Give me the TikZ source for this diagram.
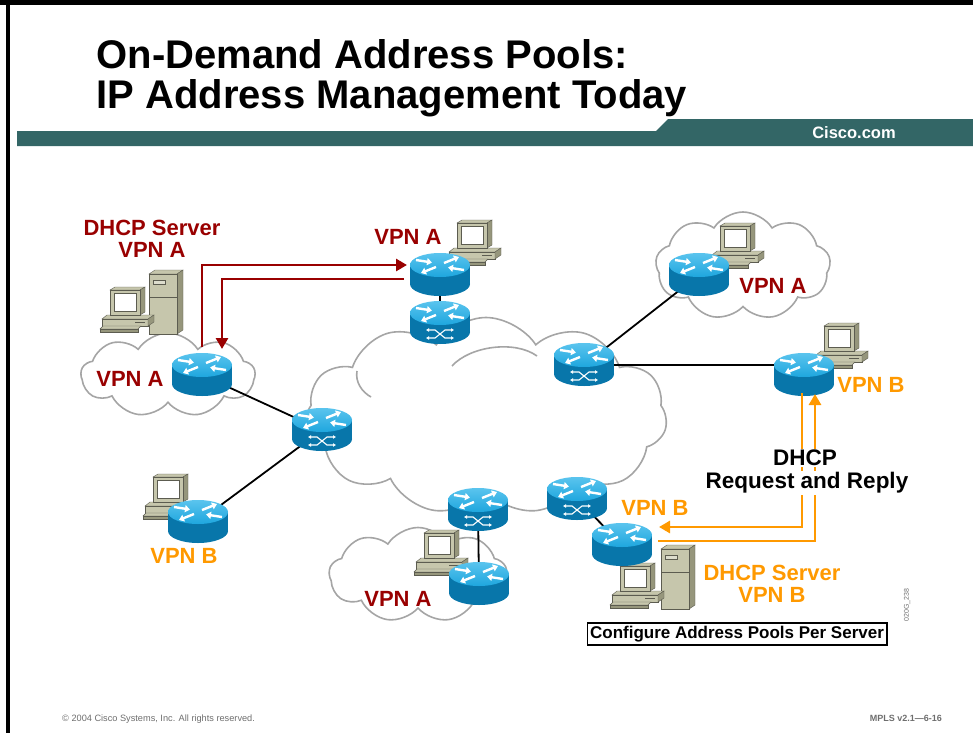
\documentclass[tikz,border=0pt]{standalone}
\usepackage{fontspec}
\setmainfont{Liberation Sans}
\usetikzlibrary{shapes.symbols,arrows.meta}

\definecolor{ciscoteal}{RGB}{51,102,102}
\definecolor{vpnred}{RGB}{153,0,0}
\definecolor{vpnorange}{RGB}{255,153,0}
\definecolor{rtrtop}{RGB}{30,166,222}
\definecolor{rtrhi}{RGB}{90,196,238}
\definecolor{rtrside}{RGB}{8,118,170}
\definecolor{pcface}{RGB}{198,198,172}
\definecolor{pcside}{RGB}{150,150,124}
\definecolor{pcline}{RGB}{92,92,80}
\definecolor{cloudgray}{RGB}{165,165,165}
\definecolor{footgray}{RGB}{110,110,110}

% router body, origin in the middle of the cylinder
\newcommand{\rtrbody}{%
  \fill[rtrside] (-30,-10) rectangle (30,9);
  \fill[rtrside] (0,9) ellipse[x radius=30, y radius=12];
  \shade[top color=rtrhi, bottom color=rtrtop] (0,-10) ellipse[x radius=30, y radius=12];
  \begin{scope}[white, line width=2.4pt, -{Triangle[length=5pt,width=7pt]}]
    \draw (-24,-15) -- (-8,-12.5);
    \draw (4,-12) -- (19,-18);
    \draw (-4,-8) -- (-19,-2);
    \draw (24,-5) -- (8,-7.5);
  \end{scope}
}
% crossed arrows on the side of a switch router
\newcommand{\swmark}{%
  \begin{scope}[white, line width=1.1pt, {Latex[length=3pt,width=4pt]}-{Latex[length=3pt,width=4pt]}]
    \draw (-14,7) -- (-5,7) -- (5,15) -- (14,15);
    \draw (-14,15) -- (-5,15) -- (5,7) -- (14,7);
  \end{scope}
}
% workstation, origin at top left of the monitor front
\newcommand{\pcbody}{%
  \filldraw[fill=pcface, draw=pcline] (-8,29) -- (-3,25) -- (44,25) -- (38,29) -- cycle;
  \filldraw[fill=pcface, draw=pcline] (-8,29) rectangle (38,36);
  \filldraw[fill=pcside, draw=pcline] (38,29) -- (44,25) -- (44,32) -- (38,36) -- cycle;
  \draw[pcline, line width=1pt] (25,32.5) -- (35,32.5);
  \filldraw[fill=pcface, draw=pcline] (-10,39) -- (-7,36) -- (31,36) -- (28,39) -- cycle;
  \filldraw[fill=pcside, draw=pcline] (-10,39) rectangle (28,42);
  \filldraw[fill=pcface, draw=pcline] (0,0) -- (5,-3) -- (35,-3) -- (30,0) -- cycle;
  \filldraw[fill=pcside, draw=pcline] (30,0) -- (35,-3) -- (35,22) -- (30,25) -- cycle;
  \filldraw[fill=pcface, draw=pcline] (0,0) rectangle (30,25);
  \filldraw[fill=white, draw=pcline] (4,3) rectangle (26,21);
}
% server tower, origin at top left of the front
\newcommand{\towerbody}{%
  \filldraw[fill=pcface, draw=pcline] (0,0) -- (6,-4) -- (34,-4) -- (28,0) -- cycle;
  \filldraw[fill=pcside, draw=pcline] (28,0) -- (34,-4) -- (34,56) -- (28,60) -- cycle;
  \filldraw[fill=pcface, draw=pcline] (0,0) rectangle (28,60);
  \filldraw[fill=pcface!60!white, draw=pcline] (4,6) rectangle (16,10);
  \draw[pcline] (0,23) -- (28,23);
}

\tikzset{
  pics/router/.style={code={\rtrbody}},
  pics/swrouter/.style={code={\rtrbody\swmark}},
  pics/pc/.style={code={\pcbody}},
  pics/tower/.style={code={\towerbody}},
}

\begin{document}
\begin{tikzpicture}[x=1pt, y=-1pt,
  link/.style={line width=1.8pt, black},
  cloudbox/.style={cloud, cloud puff arc=115, cloud ignores aspect, draw=cloudgray,
    fill=white, line width=1.6pt, inner sep=0pt},
  redlabel/.style={vpnred, font=\fontsize{22}{22}\selectfont\bfseries, align=center, inner sep=1pt},
  orangelabel/.style={vpnorange, font=\fontsize{22}{22}\selectfont\bfseries, align=center, inner sep=1pt},
  blacklabel/.style={font=\fontsize{22.5}{22.5}\selectfont\bfseries, fill=white, inner sep=1.5pt},
  redarrow/.style={vpnred, line width=2.8pt, -{Triangle[length=11pt,width=12pt]}},
  orangearrow/.style={vpnorange, line width=2.8pt, -{Triangle[length=11pt,width=12pt]}},
  cloudline/.style={cloudgray, line width=1.6pt},
]
\useasboundingbox (0,0) rectangle (973,733);

% slide frame and header
\fill[black] (0,0) rectangle (973,5);
\fill[black] (6,0) rectangle (10,733);
\fill[ciscoteal] (17,131) -- (656,131) -- (668,119) -- (973,119) -- (973,146) -- (17,146) -- cycle;
\node[anchor=base west, font=\fontsize{40}{40}\selectfont\bfseries] (title1) at (93,69) {On-Demand Address Pools:};
\node[anchor=base west, font=\fontsize{40}{40}\selectfont\bfseries] (title2) at (93,109) {IP Address Management Today};
\node[white, font=\fontsize{16.5}{16.5}\selectfont\bfseries] (cisco) at (854,133) {Cisco.com};

% clouds
\node[cloudbox, cloud puffs=11, minimum width=362pt, minimum height=197pt] (core) at (486,416) {};
\node[cloudbox, cloud puffs=9, minimum width=174pt, minimum height=84pt] (cloudL) at (168,375) {};
\node[cloudbox, cloud puffs=9, minimum width=175pt, minimum height=108pt] (cloudR) at (743,266) {};
\node[cloudbox, cloud puffs=9, minimum width=178pt, minimum height=95pt] (cloudB) at (418,575) {};
\draw[cloudline] (452,366) .. controls (470,346) and (515,340) .. (537,356);
\draw[cloudline] (357,371) .. controls (355,382) and (362,392) .. (371,397);

% router positions
\coordinate (rtrA1) at (202,375);
\coordinate (rtrA2) at (440,275);
\coordinate (swTop) at (440,323);
\coordinate (swLeft) at (322,430);
\coordinate (rtrB1) at (198,522);
\coordinate (swRight) at (584,365);
\coordinate (rtrA3) at (699,275);
\coordinate (rtrB2) at (804,375);
\coordinate (swBot1) at (478,510);
\coordinate (rtrA4) at (479,584);
\coordinate (swBot2) at (577,499);
\coordinate (rtrB3) at (622,545);

% links
\draw[link] (rtrA1) -- (swLeft);
\draw[link] (swLeft) -- (rtrB1);
\draw[link] (rtrA2) -- (swTop);
\draw[link] (swRight) -- (rtrA3);
\draw[link] (swRight) -- (swRight -| rtrB2);
\draw[link] (swBot1) -- (rtrA4);
\draw[link] (swBot2) -- (rtrB3);

% hosts
\pic (srvA) at (149,274) {tower};
\pic (hostA1) at (110,290) {pc};
\pic (hostA2) at (457,223) {pc};
\pic (hostA3) at (720,226) {pc};
\pic (hostB2) at (824,326) {pc};
\pic (hostB1) at (153,477) {pc};
\pic (hostA4) at (424,533) {pc};
\pic (srvB) at (661,549) {tower};
\pic (hostB3) at (620,566) {pc};

% routers
\pic at (rtrA1) {router};
\pic at (rtrA2) {router};
\pic at (swTop) {swrouter};
\pic at (swLeft) {swrouter};
\pic at (rtrB1) {router};
\pic at (swRight) {swrouter};
\pic at (rtrA3) {router};
\pic at (rtrB2) {router};
\pic at (swBot1) {swrouter};
\pic at (rtrA4) {router};
\pic at (swBot2) {swrouter};
\pic at (rtrB3) {router};

% DHCP exchange, VPN A
\coordinate (reqAstart) at (202,347);
\coordinate (reqAend) at (407,265);
\coordinate (repAstart) at (404,279);
\coordinate (repAend) at (222,349);
\draw[redarrow] (reqAstart) |- (reqAend);
\draw[redarrow] (repAstart) -| (repAend);

% DHCP exchange, VPN B
\coordinate (repBstart) at (802,393);
\coordinate (repBend) at (659,527);
\coordinate (reqBstart) at (658,541);
\coordinate (reqBend) at (815,394);
\draw[orangearrow] (repBstart) |- (repBend);
\draw[orangearrow] (reqBstart) -| (reqBend);

% labels
\node[redlabel] (dhcpA) at (152,239) {DHCP Server\\VPN A};
\node[redlabel] (vpnAtop) at (408,237) {VPN A};
\node[redlabel] (vpnAleft) at (130,379) {VPN A};
\node[redlabel] (vpnAright) at (773,286) {VPN A};
\node[redlabel] (vpnAbot) at (398,599) {VPN A};
\node[orangelabel] (vpnBright) at (871,385) {VPN B};
\node[orangelabel] (vpnBleft) at (184,556) {VPN B};
\node[orangelabel] (vpnBbot) at (655,508) {VPN B};
\node[orangelabel] (dhcpB) at (772,584) {DHCP Server\\VPN B};
\node[blacklabel] (dhcpTxt) at (805,458) {DHCP};
\node[blacklabel] (reqTxt) at (807,483) {Request and Reply};
\node[draw, line width=1.2pt, fill=white, inner sep=3pt, font=\fontsize{17}{17}\selectfont\bfseries] (poolBox) at (737,634) {Configure Address Pools Per Server};

% footer
\node[anchor=base west, footgray, font=\fontsize{9.2}{9.2}\selectfont, inner sep=0pt] (copy) at (62,721) {© 2004 Cisco Systems, Inc. All rights reserved.};
\node[anchor=base east, footgray, font=\fontsize{9}{9}\selectfont\bfseries, inner sep=0pt] (course) at (942,721) {MPLS v2.1—6-16};
\node[rotate=90, footgray, font=\fontsize{7}{7}\selectfont, inner sep=0pt] (figid) at (907,605) {020G\_238};
\end{tikzpicture}
\end{document}
